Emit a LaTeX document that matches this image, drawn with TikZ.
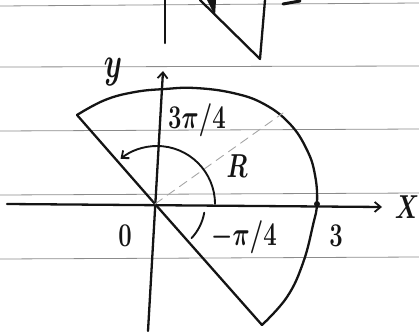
\documentclass[tikz,border=0pt]{standalone}
\usepackage{amsmath}
\usetikzlibrary{arrows.meta,calc}
\definecolor{kalem}{HTML}{141414}
\definecolor{satirGri}{HTML}{8C8C8C}
\definecolor{kesikGri}{HTML}{A6A6A6}
\newcommand{\elyazi}[1]{\scalebox{1.15}[1.6]{#1}}
\begin{document}
\begin{tikzpicture}[x=1pt, y=-1pt, line cap=round, line join=round,
  every node/.style={font=\huge\boldmath, text=kalem, inner sep=0pt},
  kalemcizgi/.style={draw=kalem, line width=2.3pt},
  satir/.style={draw=satirGri, line width=0.8pt},
  okucu/.style={-{Straight Barb[length=6pt,width=10pt,line width=1.8pt]}}]
\useasboundingbox (0,0) rectangle (419,331);
% defter satirlari
\foreach \ya/\yb in {6/3, 67/66, 131/129, 195/193, 259/257}
  \draw[satir] (0,\ya) -- (419,\yb);
% ust kesik cizim
\draw[kalemcizgi] (165,0) -- (165,43);
\draw[kalemcizgi] (200,0) -- (260,59) -- (265,0);
\fill[kalem] (207,0) -- (216,0) -- (215,16) -- cycle;
\draw[kalemcizgi, line width=3pt] (283,4) -- (300,1);
% noktalar
\coordinate (O) at (155,204);
\coordinate (A) at (77,115);
\coordinate (B) at (262,325);
\coordinate (P) at (317,204);
\coordinate (xs) at (7,204);
\coordinate (xe) at (382,207);
\coordinate (ys) at (148,331);
\coordinate (ye) at (163,71);
\coordinate (Rd) at (283,113);
% eksenler
\draw[kalemcizgi, okucu] (xs) -- (xe);
\draw[kalemcizgi, okucu] (ys) -- (ye);
% bolge
\draw[kalemcizgi] (B) -- (O) -- (A);
\draw[kalemcizgi] plot[smooth, tension=0.7] coordinates {(77,115) (105,100) (135,92)
  (165,89) (195,88) (233,93) (264,104) (290,124) (307,150) (315,175) (317,203)
  (313,225) (303,263) (287,297) (262,325)};
\fill[kalem] (P) circle (3pt);
\draw[kesikGri, line width=0.9pt, dash pattern=on 9pt off 6pt] (O) -- (Rd);
% acilar
\draw[kalemcizgi, line width=1.9pt, okucu] ($(O)+(0:60)$) arc[start angle=0, end angle=-129, radius=58];
\draw[kalemcizgi, line width=1.9pt] ($(O)+(10:50)$) arc[start angle=10, end angle=43, radius=50];
% etiketler
\node (ust) at (197,120) {\elyazi{$3\pi/4$}};
\node (yaricap) at (237,166) {\elyazi{$R$}};
\node (alt) at (244,237) {\elyazi{$-\pi/4$}};
\node (uc) at (336,236) {\elyazi{$3$}};
\node (sifir) at (125,236) {\elyazi{$0$}};
\node (xlbl) at (407,207) {\elyazi{$X$}};
\node (ylbl) at (113,72) {\scalebox{1.4}[2.1]{$y$}};
\end{tikzpicture}
\end{document}
